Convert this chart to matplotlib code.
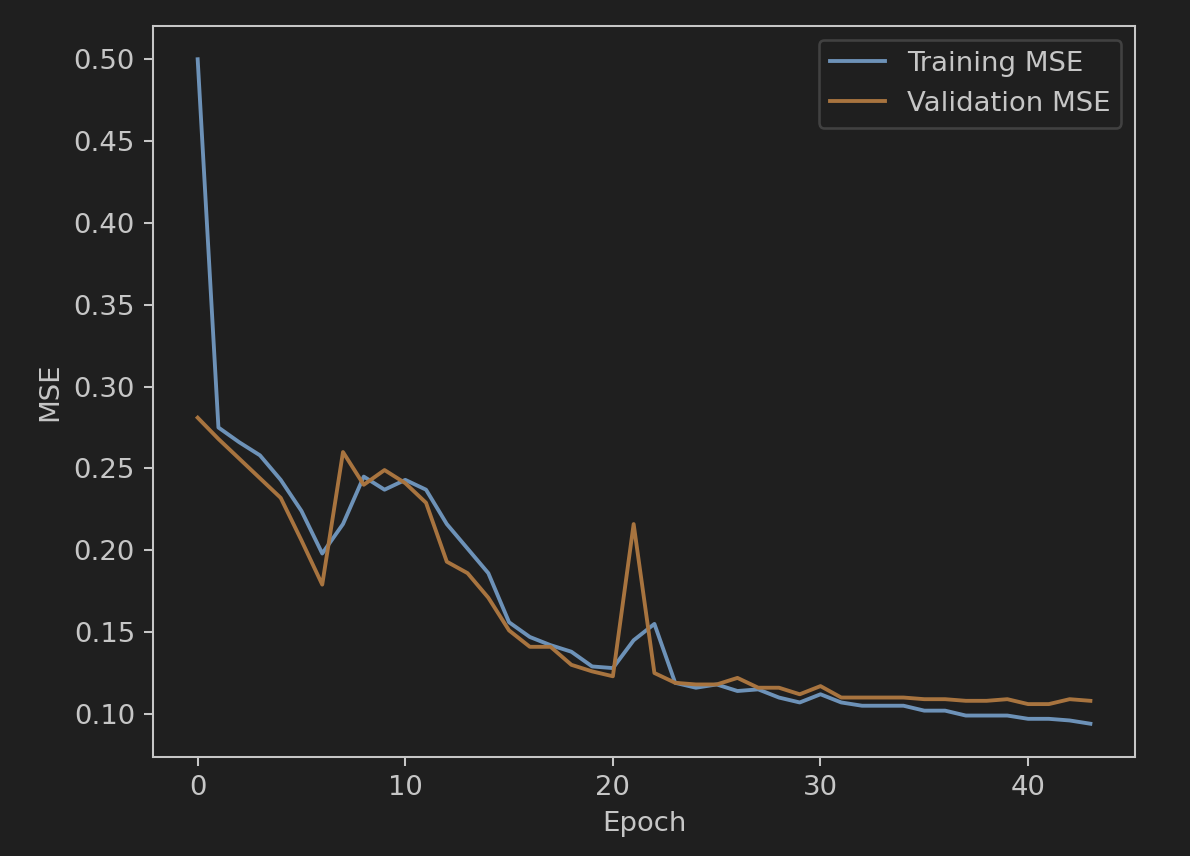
import matplotlib
matplotlib.use("Agg")
import matplotlib.pyplot as plt

BG = "#1f1f1f"
FG = "#c6c6c6"

train_mse = [0.500, 0.275, 0.266, 0.258, 0.243, 0.224, 0.198, 0.216, 0.245, 0.237,
             0.243, 0.237, 0.216, 0.201, 0.186, 0.156, 0.147, 0.142, 0.138, 0.129,
             0.128, 0.145, 0.155, 0.119, 0.116, 0.118, 0.114, 0.115, 0.110, 0.107,
             0.112, 0.107, 0.105, 0.105, 0.105, 0.102, 0.102, 0.099, 0.099, 0.099,
             0.097, 0.097, 0.096, 0.094]
val_mse = [0.281, 0.268, 0.256, 0.244, 0.232, 0.206, 0.179, 0.260, 0.240, 0.249,
           0.241, 0.229, 0.193, 0.186, 0.171, 0.151, 0.141, 0.141, 0.130, 0.126,
           0.123, 0.216, 0.125, 0.119, 0.118, 0.118, 0.122, 0.116, 0.116, 0.112,
           0.117, 0.110, 0.110, 0.110, 0.110, 0.109, 0.109, 0.108, 0.108, 0.109,
           0.106, 0.106, 0.109, 0.108]
epochs = list(range(len(train_mse)))

plt.rcParams["font.size"] = 10.7

fig = plt.figure(figsize=(1190/185, 856/185), dpi=185)
fig.patch.set_facecolor(BG)
ax = fig.add_axes([0.1286, 0.1157, 0.8252, 0.8539])
ax.set_facecolor(BG)

ax.plot(epochs, train_mse, color="#6d92b8", label="Training MSE")
ax.plot(epochs, val_mse, color="#a8743f", label="Validation MSE")

ax.set_xlabel("Epoch", color=FG)
ax.set_ylabel("MSE", color=FG)
ax.tick_params(colors=FG)
for s in ax.spines.values():
    s.set_color(FG)

leg = ax.legend(facecolor=BG, edgecolor="#4a4a4a", labelcolor=FG)

fig.savefig("out.png", facecolor=BG)
